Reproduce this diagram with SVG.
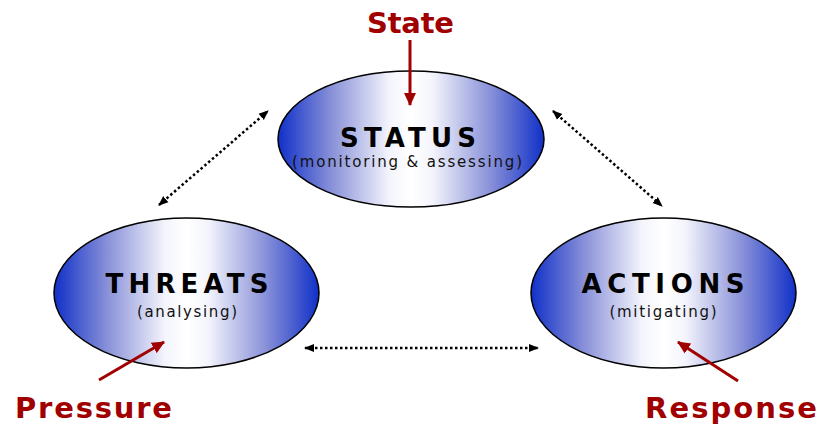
<svg xmlns="http://www.w3.org/2000/svg" width="824" height="426" viewBox="0 0 824 426">
<style>
.node{stroke:#000;stroke-width:1.5;fill:url(#grad)}
.title{font-family:"DejaVu Sans",Verdana,sans-serif;font-weight:bold;font-size:26px;fill:#000;text-anchor:middle}
.sub{font-family:"DejaVu Sans",Verdana,sans-serif;font-size:15px;fill:#111;text-anchor:middle}
.ind{font-family:"DejaVu Sans",Verdana,sans-serif;font-weight:bold;font-size:29px;fill:#a00000}
.dot{stroke:#000;stroke-width:2.5;stroke-dasharray:2.5 2.5;fill:none;marker-start:url(#bh);marker-end:url(#bh)}
.red{stroke:#a00000;stroke-width:3;fill:none;marker-end:url(#rh)}
</style>
<defs>
<linearGradient id="grad" x1="0" y1="0" x2="1" y2="0">
<stop offset="0" stop-color="#1030c8"/>
<stop offset="0.2" stop-color="#8890d8"/>
<stop offset="0.42" stop-color="#f4f5fc"/>
<stop offset="0.5" stop-color="#ffffff"/>
<stop offset="0.58" stop-color="#f4f5fc"/>
<stop offset="0.8" stop-color="#8890d8"/>
<stop offset="1" stop-color="#1030c8"/>
</linearGradient>
<marker id="bh" viewBox="0 0 10 10" refX="9" refY="5" markerWidth="10" markerHeight="10" markerUnits="userSpaceOnUse" orient="auto-start-reverse">
<path d="M0,1 L10,5 L0,9 Z" fill="#000"/>
</marker>
<marker id="rh" viewBox="0 0 12 12" refX="11" refY="6" markerWidth="13" markerHeight="13" markerUnits="userSpaceOnUse" orient="auto">
<path d="M0,0.5 L12,6 L0,11.5 Z" fill="#a00000"/>
</marker>
</defs>
<g id="status">
<ellipse class="node" cx="411" cy="139" rx="133" ry="68"/>
<text class="title" x="408" y="147" textLength="136" lengthAdjust="spacing">STATUS</text>
<text class="sub" x="407" y="167" textLength="230" lengthAdjust="spacing">(monitoring &amp; assessing)</text>
</g>
<g id="threats">
<ellipse class="node" cx="186.5" cy="293" rx="132.5" ry="75"/>
<text class="title" x="187" y="293" textLength="163" lengthAdjust="spacing">THREATS</text>
<text class="sub" x="187" y="317" textLength="100" lengthAdjust="spacing">(analysing)</text>
</g>
<g id="actions">
<ellipse class="node" cx="663.5" cy="293" rx="132.5" ry="75"/>
<text class="title" x="663" y="293" textLength="163" lengthAdjust="spacing">ACTIONS</text>
<text class="sub" x="663" y="317" textLength="107" lengthAdjust="spacing">(mitigating)</text>
</g>
<g id="state">
<text class="ind" x="367" y="33" textLength="87" lengthAdjust="spacing">State</text>
</g>
<g id="pressure">
<text class="ind" x="15" y="418" textLength="157" lengthAdjust="spacing">Pressure</text>
</g>
<g id="response">
<text class="ind" x="645" y="418" textLength="172" lengthAdjust="spacing">Response</text>
</g>
<g id="connectors">
<line class="dot" x1="159" y1="205" x2="268" y2="111"/>
<line class="dot" x1="553" y1="111" x2="662" y2="206"/>
<line class="dot" x1="305" y1="348" x2="538" y2="348"/>
<line class="red" x1="410" y1="40" x2="410" y2="105"/>
<line class="red" x1="99" y1="380" x2="164" y2="342"/>
<line class="red" x1="738" y1="381" x2="678" y2="342"/>
</g>
</svg>
